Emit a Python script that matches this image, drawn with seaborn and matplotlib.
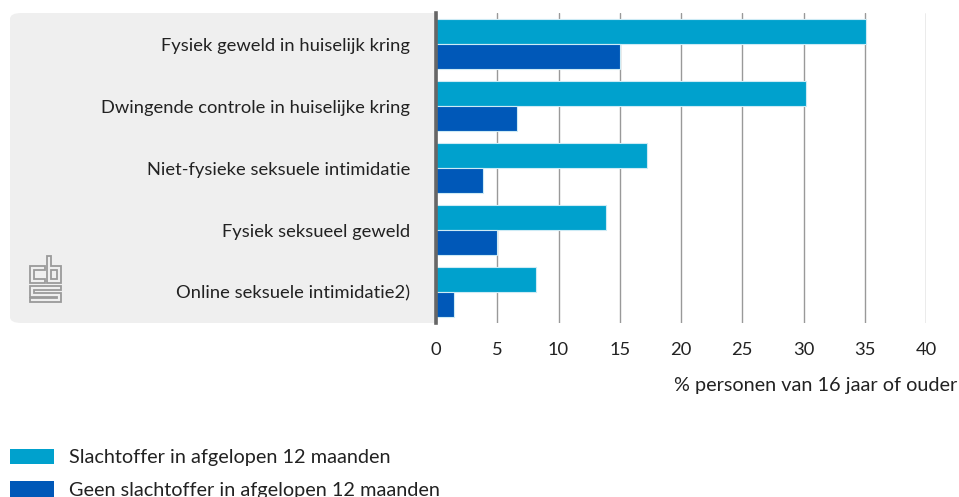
import matplotlib
matplotlib.use("Agg")
import matplotlib.pyplot as plt
from matplotlib.patches import FancyBboxPatch, Patch, Polygon
import seaborn as sns
import pandas as pd

categories = [
    "Fysiek geweld in huiselijk kring",
    "Dwingende controle in huiselijke kring",
    "Niet-fysieke seksuele intimidatie",
    "Fysiek seksueel geweld",
    "Online seksuele intimidatie2)",
]
series_names = ["Slachtoffer in afgelopen 12 maanden",
                "Geen slachtoffer in afgelopen 12 maanden"]
slachtoffer = [35.1, 30.2, 17.2, 13.9, 8.2]
geen_slachtoffer = [15.0, 6.6, 3.8, 5.0, 1.5]
x_ticks = [0, 5, 10, 15, 20, 25, 30, 35, 40]
x_label = "% personen van 16 jaar of ouder"

colors = ["#00a1cd", "#0058b8"]

df = pd.DataFrame({
    "categorie": categories * 2,
    "reeks": [series_names[0]] * len(categories) + [series_names[1]] * len(categories),
    "waarde": slachtoffer + geen_slachtoffer,
})

sns.set_theme(style="white")
plt.rcParams["font.family"] = ["Lato", "DejaVu Sans"]
text_color = "#222222"
fs = 13.2
fs_big = 14.3

W, H = 959, 497
fig = plt.figure(figsize=(W / 100, H / 100), dpi=100)


def fx(x):
    return x / W


def fy(y):
    return 1 - y / H


ax = fig.add_axes([fx(436), fy(323), fx(926) - fx(436), fy(13) - fy(323)])
ax.set_facecolor("white")

sns.barplot(data=df, y="categorie", x="waarde", hue="reeks", order=categories,
            hue_order=series_names, palette=colors, saturation=1, orient="h",
            width=0.8, edgecolor="#cdebf5", linewidth=0.8, ax=ax, legend=False,
            zorder=3)

ax.set_xlim(0, 40)
ax.set_ylim(len(categories) - 0.5, -0.5)
ax.set_xticks(x_ticks)
ax.set_xticklabels([str(t) for t in x_ticks], fontsize=fs, color=text_color)
ax.tick_params(axis="x", length=4, width=1, color="#999999", pad=10, direction="out")
ax.tick_params(axis="y", length=0, pad=18.5, labelsize=fs, labelcolor=text_color)
ax.grid(axis="x", color="#999999", linewidth=1, zorder=0)
ax.grid(axis="y", visible=False)
ax.set_xlabel("")
ax.set_ylabel("")
for s in ["top", "right", "bottom"]:
    ax.spines[s].set_visible(False)
ax.spines["left"].set_color("#666666")
ax.spines["left"].set_linewidth(2.6)
ax.spines["left"].set_zorder(5)

# grey label panel behind the category names
panel = FancyBboxPatch((fx(10), fy(323)), fx(446) - fx(10), fy(13) - fy(323),
                       boxstyle="round,pad=0,rounding_size=0.012",
                       transform=fig.transFigure, facecolor="#efefef",
                       edgecolor="none", zorder=-1)
fig.patches.append(panel)

# logo outline
logo_shapes = [
    [(45, 266), (30, 266), (30, 283), (45, 283), (45, 279), (34, 279), (34, 270), (45, 270)],
    [(47, 256), (51, 256), (51, 266), (61, 266), (61, 283), (47, 283)],
    [(51, 270), (57, 270), (57, 279), (51, 279)],
    [(30, 286), (61, 286), (61, 290), (34, 290), (34, 293), (61, 293), (61, 302),
     (30, 302), (30, 298), (57, 298), (57, 297), (30, 297)],
]
for shape in logo_shapes:
    fig.patches.append(Polygon([(fx(a), fy(b)) for a, b in shape], closed=True,
                               transform=fig.transFigure, facecolor="none",
                               edgecolor="#9a9a9a", linewidth=1.3, zorder=2))

fig.text(fx(957), fy(386), x_label, ha="right", va="center",
         fontsize=fs_big, color=text_color)

handles = [Patch(facecolor=c, edgecolor="none") for c in colors]
fig.legend(handles, series_names, loc="upper left",
           bbox_to_anchor=(fx(10), fy(449)), frameon=False, fontsize=fs_big,
           borderpad=0, borderaxespad=0,
           handlelength=2.2, handleheight=0.8, handletextpad=0.75,
           labelspacing=0.75, labelcolor=text_color)

fig.savefig("out.png", dpi=100)
